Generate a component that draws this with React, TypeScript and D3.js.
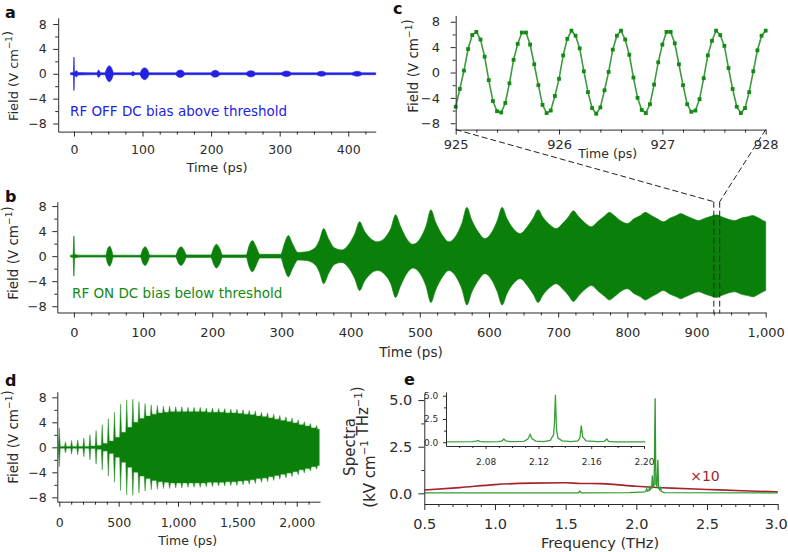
import React, { useEffect, useRef } from 'react';
import * as d3 from 'd3';

type Pt = [number, number];

const FONT = '"DejaVu Sans", "Liberation Sans", Arial, sans-serif';
const INK = '#2b2b2b';

// spacing of the bursts (cavity round trip), ps
const roundTrip = 51.6;

// a: RF off, DC bias above threshold. Envelope [ps, V/cm], mirrored about 0
const offEnvelope: Pt[] = [
    [-5, 0.15], [-1, 0.2], [0, 2.7], [1, 0.3], [4, 0.5], [6, 0.2],
    [33, 0.15], [36, 0.6], [39, 0.15],
    [45, 0.15], [48, 0.9], [51.6, 1.3], [55, 0.9], [58, 0.15],
    [83, 0.15], [86, 0.35], [89, 0.15],
    [96, 0.15], [99, 0.7], [103, 0.95], [107, 0.7], [110, 0.15],
    [148, 0.15], [151, 0.45], [155, 0.6], [159, 0.45], [162, 0.15],
    [199, 0.15], [202, 0.42], [206, 0.55], [210, 0.42], [213, 0.15],
    [251, 0.15], [254, 0.4], [258, 0.5], [262, 0.4], [265, 0.15],
    [302, 0.15], [306, 0.35], [310, 0.45], [314, 0.35], [317, 0.15],
    [354, 0.15], [357, 0.32], [361, 0.4], [365, 0.32], [368, 0.15],
    [405, 0.15], [409, 0.32], [413, 0.4], [417, 0.32], [420, 0.15],
    [440, 0.15]
];

// b: RF on, DC bias below threshold
const onEnvelope: Pt[] = [
    [-5, 0.15], [-1.2, 0.2], [0, 3.2], [1.2, 0.3], [4, 0.2], [10, 0.15],
    [46, 0.15], [48.5, 1.1], [51.6, 1.6], [54.5, 1.0], [57, 0.15],
    [96, 0.15], [99.5, 1.1], [103, 1.5], [106.5, 1.0], [110, 0.15],
    [147, 0.15], [151, 1.1], [155, 1.5], [159, 1.0], [163, 0.2],
    [198, 0.2], [202, 1.3], [206, 1.9], [210.5, 1.3], [215, 0.2],
    [249, 0.2], [253, 1.6], [258, 2.5], [263, 1.6], [269, 0.3],
    [299, 0.3], [304, 1.9], [310, 3.3], [316, 2.0], [324, 0.6],
    [336, 0.7], [349, 1.4], [355, 2.6], [361, 4.4], [368, 2.8], [377, 1.3],
    [387, 1.0], [398, 2.0], [406, 3.6], [413, 5.5], [420, 4.0], [429, 2.8],
    [439, 2.3], [450, 3.0], [458, 4.4], [465, 6.6], [472, 4.8], [481, 2.8],
    [490, 1.9], [501, 2.9], [509, 4.8], [516, 7.4], [523, 5.4], [533, 3.3],
    [542, 2.3], [553, 3.4], [561, 5.3], [568, 7.8], [575, 5.8], [585, 3.8],
    [594, 2.8], [605, 4.0], [612, 5.7], [619, 7.8], [626, 6.0], [636, 4.3],
    [645, 3.6], [656, 4.8], [664, 6.1], [671, 7.4], [678, 6.2], [688, 5.0],
    [697, 4.4], [707, 5.3], [715, 6.3], [722, 7.25], [729, 6.4], [739, 5.3],
    [748, 4.7], [758, 5.6], [767, 6.4], [774, 7.0], [781, 6.5], [791, 5.6],
    [800, 5.2], [810, 6.0], [819, 6.5], [826, 7.0], [833, 6.6], [843, 6.0],
    [852, 5.5], [862, 6.1], [871, 6.5], [877, 6.8], [884, 6.5], [894, 6.0],
    [903, 5.7], [913, 6.1], [922, 6.4], [929, 6.6], [936, 6.3], [946, 5.9],
    [955, 5.7], [965, 6.1], [974, 6.3], [981, 6.5], [988, 6.2], [996, 5.7],
    [1000, 5.5]
];
// dashed window drawn on b
const zoomMark = [925, 933.5];

// c: sampled field from 925 ps, one sample every 0.04 ps
const zoomStart = 925;
const zoomStep = 0.04;
const zoomField = [
    -5.4, -2.6, 0.3, 3.7, 5.9, 6.4, 5.2, 2.5, -1.2, -4.5,
    -6.1, -6.3, -4.8, -1.7, 2.0, 4.5, 6.3, 6.3, 4.4, 1.3,
    -2.0, -5.1, -6.4, -6.0, -3.7, -1.0, 2.7, 5.3, 6.6, 5.8,
    3.8, 0.2, -3.1, -5.6, -6.5, -5.5, -2.8, 0.1, 3.6, 5.8,
    6.6, 5.2, 2.8, -0.8, -4.0, -5.9, -6.4, -5.0, -1.9, 1.6,
    4.4, 6.4, 6.4, 4.6, 1.3, -2.0, -5.0, -6.2, -6.0, -4.2,
    -0.9, 2.7, 5.0, 6.6, 5.9, 4.2, 0.7, -2.6, -5.4, -6.4,
    -5.6, -3.1, 0.2, 3.5, 5.8, 6.6
];

// d: long record, peak of each burst and the level that follows it
const longPeaks = [
    3.1, 0.9, 1.1, 1.2, 1.5, 2.0, 2.7, 3.6, 4.6, 5.6,
    6.9, 7.6, 7.7, 7.3, 7.0, 6.8, 6.7, 6.6, 6.6, 6.5,
    6.5, 6.4, 6.4, 6.4, 6.3, 6.3, 6.2, 6.2, 6.1, 6.1,
    6.0, 5.9, 5.8, 5.6, 5.5, 5.3, 5.1, 4.9, 4.7, 4.4,
    4.1, 3.8, 3.5
];
const longFloor = [
    0.15, 0.15, 0.15, 0.15, 0.15, 0.2, 0.3, 0.6, 1.0, 1.6,
    2.4, 3.2, 4.0, 4.6, 5.0, 5.3, 5.5, 5.6, 5.7, 5.7,
    5.7, 5.7, 5.7, 5.7, 5.6, 5.6, 5.6, 5.5, 5.5, 5.4,
    5.3, 5.2, 5.0, 4.9, 4.7, 4.5, 4.3, 4.1, 3.9, 3.6,
    3.4, 3.1, 2.9
];
const longEnd = 2190;

// e: spectra [THz, kV cm-1 THz-1]
const spectrum: Pt[] = [
    [0.5, 0.03], [1.59, 0.03], [1.6, 0.12], [1.61, 0.03], [1.95, 0.04],
    [2.06, 0.08], [2.07, 0.15], [2.074, 0.25], [2.078, 0.12],
    [2.089, 0.15], [2.094, 0.4], [2.098, 0.2], [2.108, 0.3],
    [2.1137, 0.95], [2.118, 0.35], [2.126, 0.45], [2.1329, 5.1],
    [2.138, 0.5], [2.145, 0.4], [2.1525, 1.8], [2.157, 0.3],
    [2.165, 0.2], [2.172, 0.35], [2.176, 0.1], [2.2, 0.04], [3.0, 0.03]
];
const spectrumInset: Pt[] = [
    [2.05, 0.05], [2.07, 0.06], [2.073, 0.12], [2.0742, 0.2], [2.0755, 0.1], [2.079, 0.05],
    [2.09, 0.06], [2.0925, 0.15], [2.0938, 0.35], [2.0952, 0.15], [2.099, 0.06],
    [2.109, 0.1], [2.112, 0.35], [2.1137, 0.85], [2.115, 0.4], [2.118, 0.12], [2.124, 0.08],
    [2.129, 0.2], [2.1315, 0.8], [2.1322, 2.2], [2.1329, 5.1], [2.1337, 1.4], [2.1348, 0.45],
    [2.138, 0.15], [2.145, 0.06], [2.15, 0.15], [2.1515, 0.5], [2.1525, 1.8], [2.1535, 0.6],
    [2.156, 0.15], [2.165, 0.06], [2.17, 0.1], [2.1719, 0.35], [2.1732, 0.1], [2.178, 0.05],
    [2.201, 0.04]
];
const spectrumFree: Pt[] = [
    [0.5, 0.18], [0.75, 0.31], [1.0, 0.47], [1.25, 0.55], [1.5, 0.57], [1.6, 0.53],
    [1.75, 0.52], [2.0, 0.38], [2.25, 0.28], [2.5, 0.21], [2.75, 0.14], [3.0, 0.08]
];

const fieldTicks = [-8, -4, 0, 4, 8];
const fieldMinor = [-6, -2, 2, 6];
const shortTicks = [0, 100, 200, 300, 400];
const shortMinor = d3.range(25, 440, 25).filter(v => v % 100 !== 0);
const midTicks = d3.range(0, 1001, 100);
const midMinor = d3.range(25, 1000, 25).filter(v => v % 100 !== 0);
const zoomTicks = [925, 926, 927, 928];
const zoomMinor = d3.range(925.2, 928, 0.2).filter(v => Math.abs(v - Math.round(v)) > 0.05);
const longTicks = [0, 500, 1000, 1500, 2000];
const longMinor = d3.range(100, 2200, 100).filter(v => v % 500 !== 0);
const freqTicks = [0.5, 1.0, 1.5, 2.0, 2.5, 3.0];
const freqMinor = d3.range(0.6, 3.0, 0.1).filter(v => Math.abs(v * 2 - Math.round(v * 2)) > 0.05);
const specTicks = [0, 2.5, 5];
const specMinor = [1.25, 3.75];
const insetTicks = [2.08, 2.12, 2.16, 2.2];
const insetMinor = d3.range(2.06, 2.2, 0.01).filter(v => insetTicks.every(t => Math.abs(t - v) > 0.004));

function drawAxes(g: any, x: any, y: any, s: any) {
    const major = s.major ?? 5;
    const minor = s.minor ?? 3;
    const yBase = y.range()[0];
    const xBase = x.range()[0];
    const put = (gen: any, tx: number, ty: number) => {
        const a = g.append('g').attr('transform', `translate(${tx},${ty})`).call(gen);
        a.attr('font-family', FONT).attr('font-size', s.fontSize);
        a.selectAll('line').attr('stroke', INK);
        a.selectAll('path').attr('stroke', INK);
        a.selectAll('text').attr('fill', INK);
        return a;
    };
    put(d3.axisBottom(x).tickValues(s.xMinor).tickSize(minor).tickFormat(() => ''), 0, yBase)
        .select('.domain').remove();
    const xa = put(d3.axisBottom(x).tickValues(s.xTicks).tickSize(major).tickSizeOuter(0)
        .tickPadding(s.xPad).tickFormat(s.xFmt), 0, yBase);
    put(d3.axisLeft(y).tickValues(s.yMinor).tickSize(minor).tickFormat(() => ''), xBase, 0)
        .select('.domain').remove();
    put(d3.axisLeft(y).tickValues(s.yTicks).tickSize(major).tickSizeOuter(0)
        .tickPadding(s.yPad).tickFormat(s.yFmt), xBase, 0);
    return xa;
}

function label(g: any, x: number, y: number, text: string, size: number, opts: any = {}) {
    return g.append('text')
        .attr('x', x).attr('y', y)
        .attr('text-anchor', opts.anchor ?? 'middle')
        .attr('font-family', FONT)
        .attr('font-size', size)
        .attr('font-weight', opts.weight ?? 'normal')
        .attr('fill', opts.color ?? INK)
        .text(text);
}

// rotated title with superscripts
function withSup(g: any, x: number, y: number, parts: [string, string][], tail: string, size: number) {
    const t = g.append('text')
        .attr('transform', `translate(${x},${y}) rotate(-90)`)
        .attr('text-anchor', 'middle')
        .attr('font-family', FONT)
        .attr('font-size', size)
        .attr('fill', INK);
    parts.forEach(([base, sup]) => {
        t.append('tspan').text(base);
        t.append('tspan').attr('dy', -size * 0.42).attr('font-size', size * 0.68).text(sup);
        t.append('tspan').attr('dy', size * 0.42).text('');
    });
    t.append('tspan').text(tail);
}

const fmtInt = d3.format(',');
const fmtOne = d3.format('.1f');
const fmtTwo = d3.format('.2f');

const App: React.FC = () => {
    const svgRef = useRef<SVGSVGElement>(null);

    useEffect(() => {
        const svg = d3.select(svgRef.current);
        svg.selectAll('*').remove();
        svg.append('rect').attr('width', 788).attr('height', 552).attr('fill', '#fff');
        const g = svg.append('g');

        const mirrored = (x: any, y: any, curve: any) => d3.area<Pt>()
            .x(d => x(d[0]))
            .y0(d => y(-d[1]))
            .y1(d => y(d[1]))
            .curve(curve);

        // ---- a
        const xa = d3.scaleLinear().domain([-23, 440]).range([58.2, 375.7]);
        const ya = d3.scaleLinear().domain([-9.3, 9]).range([131.6, 17.8]);
        g.append('path')
            .attr('d', mirrored(xa, ya, d3.curveMonotoneX)(offEnvelope))
            .attr('fill', '#2222e2').attr('stroke', '#2222e2').attr('stroke-width', 0.6);
        drawAxes(g, xa, ya, {
            xTicks: shortTicks, xMinor: shortMinor, xFmt: fmtInt, xPad: 9,
            yTicks: fieldTicks, yMinor: fieldMinor, yFmt: fmtInt, yPad: 6.5, fontSize: 12.5
        });
        label(g, 217, 172, 'Time (ps)', 13);
        withSup(g, 17.5, 76, [['Field (V cm', '−1']], ')', 13);
        label(g, 70, 116, 'RF OFF DC bias above threshold', 13.5, { anchor: 'start', color: '#2222e2' });
        label(g, 5, 18, 'a', 16, { anchor: 'start', weight: 'bold', color: '#111' });

        // ---- b
        const xb = d3.scaleLinear().domain([-24, 1000]).range([57.3, 765.7]);
        const yb = d3.scaleLinear().domain([-9, 8.7]).range([312.5, 201.7]);
        g.append('path')
            .attr('d', mirrored(xb, yb, d3.curveMonotoneX)(onEnvelope))
            .attr('fill', '#0a7f0a').attr('stroke', '#0a7f0a').attr('stroke-width', 0.6);
        drawAxes(g, xb, yb, {
            xTicks: midTicks, xMinor: midMinor, xFmt: fmtInt, xPad: 9.8,
            yTicks: fieldTicks, yMinor: fieldMinor, yFmt: fmtInt, yPad: 5.6, fontSize: 13
        });
        label(g, 411, 357, 'Time (ps)', 13.5);
        withSup(g, 17.5, 253, [['Field (V cm', '−1']], ')', 13.5);
        label(g, 72, 297.5, 'RF ON DC bias below threshold', 13.5, { anchor: 'start', color: '#118a11' });
        label(g, 5, 202, 'b', 16, { anchor: 'start', weight: 'bold', color: '#111' });

        // ---- c
        const xc = d3.scaleLinear().domain([925, 928]).range([455.7, 765.7]);
        const yc = d3.scaleLinear().domain([-9, 9]).range([129.6, 15.4]);
        const zoomPts: Pt[] = zoomField.map((v, i) => [zoomStart + i * zoomStep, v]);
        g.append('path')
            .attr('d', d3.line<Pt>().x(d => xc(d[0])).y(d => yc(d[1]))(zoomPts))
            .attr('fill', 'none').attr('stroke', '#3d9b3d').attr('stroke-width', 1.6);
        g.append('g').selectAll('rect').data(zoomPts).enter().append('rect')
            .attr('x', d => xc(d[0]) - 1.9).attr('y', d => yc(d[1]) - 1.9)
            .attr('width', 3.8).attr('height', 3.8)
            .attr('fill', '#138a13');
        drawAxes(g, xc, yc, {
            xTicks: zoomTicks, xMinor: zoomMinor, xFmt: fmtInt, xPad: 5.4,
            yTicks: fieldTicks, yMinor: fieldMinor, yFmt: fmtInt, yPad: 10.7, fontSize: 13
        });
        label(g, 607.7, 157.5, 'Time (ps)', 12.5);
        withSup(g, 418, 66, [['Field (V cm', '−1']], ')', 13.5);
        label(g, 393, 14, 'c', 16, { anchor: 'start', weight: 'bold', color: '#111' });

        // ---- dashed link between b and c
        const dash = { stroke: '#222', 'stroke-width': 1, 'stroke-dasharray': '6,3', fill: 'none' };
        const markL = xb(zoomMark[0]);
        const markR = xb(zoomMark[1]);
        const markTop = yb(yb.domain()[1]);
        const markBot = yb.range()[0] + 1;
        const links: [number, number, number, number][] = [
            [xc(zoomTicks[0]), yc.range()[0], markL, markTop],
            [xc(zoomTicks[3]), yc.range()[0], markR, markTop],
            [markL, markTop, markL, markBot],
            [markR, markTop, markR, markBot]
        ];
        links.forEach(([x1, y1, x2, y2]) => {
            const l = g.append('line').attr('x1', x1).attr('y1', y1).attr('x2', x2).attr('y2', y2);
            Object.entries(dash).forEach(([k, v]) => l.attr(k, v));
        });

        // ---- d
        const xd = d3.scaleLinear().domain([-17, 2196]).range([57.3, 320]);
        const yd = d3.scaleLinear().domain([-8.7, 8.9]).range([501.7, 391.7]);
        const longPts: Pt[] = [];
        longPeaks.forEach((p, k) => {
            const t = k * roundTrip;
            const before = k === 0 ? longFloor[0] : longFloor[k - 1];
            longPts.push([t - 8, before], [t, p], [t + 8, longFloor[k]]);
        });
        longPts.push([longEnd, longFloor[longFloor.length - 1]]);
        g.append('path')
            .attr('d', mirrored(xd, yd, d3.curveLinear)(longPts))
            .attr('fill', '#0a7f0a').attr('stroke', '#2a922a').attr('stroke-width', 0.5);
        drawAxes(g, xd, yd, {
            xTicks: longTicks, xMinor: longMinor, xFmt: fmtInt, xPad: 11.6,
            yTicks: fieldTicks, yMinor: fieldMinor, yFmt: fmtInt, yPad: 5.6, fontSize: 12.5
        });
        label(g, 187.7, 544.5, 'Time (ps)', 12.5);
        withSup(g, 17.5, 437, [['Field (V cm', '−1']], ')', 13.5);
        label(g, 5, 386, 'd', 16, { anchor: 'start', weight: 'bold', color: '#111' });

        // ---- e
        const xe = d3.scaleLinear().domain([0.5, 3.0]).range([424.3, 777.7]);
        const ye = d3.scaleLinear().domain([-0.57, 5.38]).range([504, 393]);
        g.append('path')
            .attr('d', d3.line<Pt>().x(d => xe(d[0])).y(d => ye(d[1])).curve(d3.curveMonotoneX)(spectrumFree))
            .attr('fill', 'none').attr('stroke', '#a3242e').attr('stroke-width', 1.6);
        g.append('path')
            .attr('d', d3.line<Pt>().x(d => xe(d[0])).y(d => ye(d[1]))(spectrum))
            .attr('fill', 'none').attr('stroke', '#2f9a2f').attr('stroke-width', 1.3);
        const eAxis = drawAxes(g, xe, ye, {
            xTicks: freqTicks, xMinor: freqMinor, xFmt: fmtOne, xPad: 8.3,
            yTicks: specTicks, yMinor: specMinor, yFmt: fmtOne, yPad: 6, fontSize: 14.5, major: 6
        });
        // keep the last frequency label inside the frame
        eAxis.selectAll('.tick text').filter((d: number) => d === 3.0).attr('dx', -2);
        label(g, 600, 547.5, 'Frequency (THz)', 14.5);
        label(g, 705, 481, '×10', 14, { color: '#a3242e' });
        g.append('text')
            .attr('transform', 'translate(355,447) rotate(-90)')
            .attr('text-anchor', 'middle')
            .attr('font-family', FONT).attr('font-size', 15).attr('fill', INK)
            .text('Spectra');
        withSup(g, 374.5, 447, [['(kV cm', '−1'], [' THz', '−1']], ')', 15);
        label(g, 404, 385, 'e', 16, { anchor: 'start', weight: 'bold', color: '#111' });

        // inset
        const xi = d3.scaleLinear().domain([2.05, 2.2]).range([446, 644]);
        const yi = d3.scaleLinear().domain([-0.4, 5.4]).range([446, 392]);
        g.append('path')
            .attr('d', d3.line<Pt>().x(d => xi(d[0])).y(d => yi(d[1]))(spectrumInset))
            .attr('fill', 'none').attr('stroke', '#3aa03a').attr('stroke-width', 1.3);
        drawAxes(g, xi, yi, {
            xTicks: insetTicks, xMinor: insetMinor, xFmt: fmtTwo, xPad: 10,
            yTicks: specTicks, yMinor: specMinor, yFmt: fmtOne, yPad: 4.7, fontSize: 9,
            major: 3, minor: 2
        });
    }, []);

    return (
        <svg
            ref={svgRef}
            width={788}
            height={552}
            style={{ position: 'absolute', left: 0, top: 0 }}
        />
    );
};

export default App;
